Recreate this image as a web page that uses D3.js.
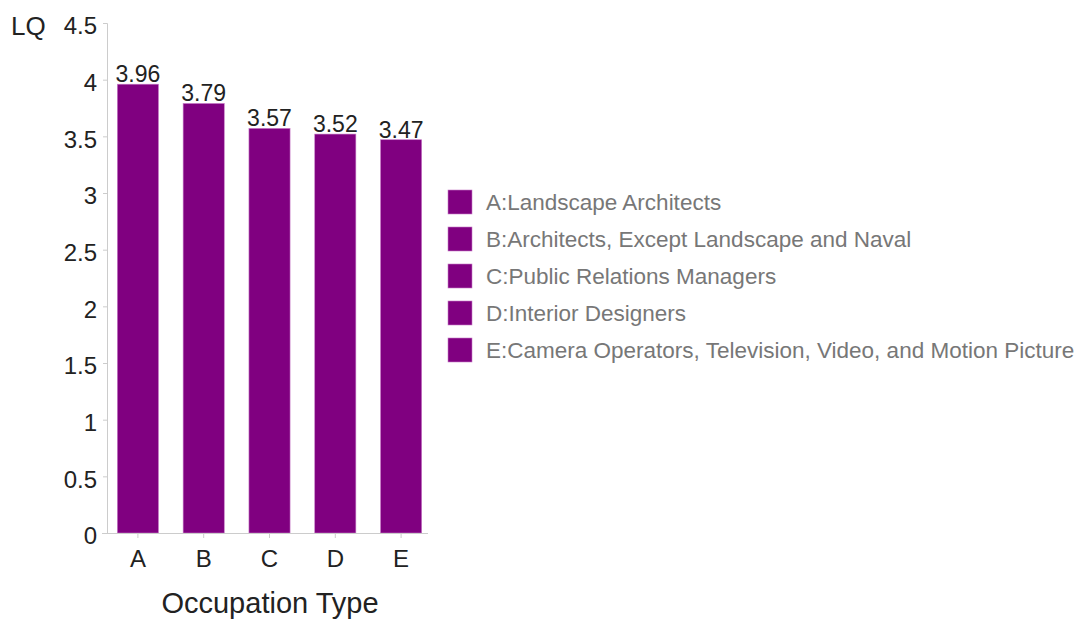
<!DOCTYPE html>
<html>
<head>
<meta charset="utf-8">
<script src="https://cdn.jsdelivr.net/npm/d3@7"></script>
<style>
  html, body { margin: 0; padding: 0; background: #fff; }
  svg { display: block; font-family: "Liberation Sans", Arial, Helvetica, sans-serif; }
</style>
</head>
<body>
<svg id="chart" width="1082" height="619"></svg>
<script>
// Location quotient by occupation type
const categories = ["A", "B", "C", "D", "E"];
const values = [3.96, 3.79, 3.57, 3.52, 3.47];
const occupationNames = [
  "Landscape Architects",
  "Architects, Except Landscape and Naval",
  "Public Relations Managers",
  "Interior Designers",
  "Camera Operators, Television, Video, and Motion Picture"
];
const yTicks = [0, 0.5, 1, 1.5, 2, 2.5, 3, 3.5, 4, 4.5];

const barColor = "#800080";
const axisColor = "#cccccc";
const fontFamily = "Liberation Sans, Arial, Helvetica, sans-serif";

const svg = d3.select("#chart");

const x = d3.scaleBand()
  .domain(categories)
  .range([105, 434])
  .paddingInner(0.375)
  .paddingOuter(0.1875);

const y = d3.scaleLinear()
  .domain([0, 4.5])
  .range([533, 23]);

// Bars
svg.append("g")
  .selectAll("rect")
  .data(values)
  .join("rect")
  .attr("x", (d, i) => x(categories[i]))
  .attr("y", d => y(d))
  .attr("width", x.bandwidth())
  .attr("height", d => y(0) - y(d))
  .attr("fill", barColor)
  .attr("stroke", "#c77bc7")
  .attr("stroke-width", 0.6);

// Value labels above the bars
svg.append("g")
  .selectAll("text")
  .data(values)
  .join("text")
  .attr("x", (d, i) => x(categories[i]) + x.bandwidth() / 2)
  .attr("y", d => y(d) - 2)
  .attr("text-anchor", "middle")
  .attr("font-size", 23)
  .attr("fill", "#222")
  .text(d => d3.format(".2f")(d));

// Y axis
const yAxis = svg.append("g")
  .attr("transform", "translate(107,0)")
  .call(d3.axisLeft(y).tickValues(yTicks).tickSize(4).tickPadding(6)
    .tickFormat(d3.format("~g")));
yAxis.select(".domain").attr("stroke", axisColor);
yAxis.selectAll(".tick line").attr("stroke", axisColor);
yAxis.selectAll(".tick text")
  .attr("font-size", 24)
  .attr("dy", "0.45em")
  .attr("fill", "#222")
  .attr("font-family", fontFamily);

// X axis
const xAxis = svg.append("g")
  .attr("transform", `translate(0,${y(0)})`)
  .call(d3.axisBottom(x).tickSize(5).tickPadding(12).tickSizeOuter(0));
xAxis.select(".domain").attr("stroke", axisColor).attr("d", "M102,0.5H428");
xAxis.selectAll(".tick line").attr("stroke", axisColor);
xAxis.selectAll(".tick text")
  .attr("font-size", 24)
  .attr("fill", "#222")
  .attr("font-family", fontFamily);

// Axis titles
svg.append("text")
  .attr("x", 11)
  .attr("y", 35)
  .attr("font-size", 26)
  .attr("fill", "#222")
  .text("LQ");

svg.append("text")
  .attr("x", 270)
  .attr("y", 613)
  .attr("text-anchor", "middle")
  .attr("font-size", 29)
  .attr("fill", "#222")
  .text("Occupation Type");

// Legend
const legend = svg.append("g")
  .selectAll("g")
  .data(categories)
  .join("g")
  .attr("transform", (d, i) => `translate(448,${190 + i * 37})`);

legend.append("rect")
  .attr("width", 24)
  .attr("height", 24)
  .attr("fill", barColor)
  .attr("stroke", "#c77bc7")
  .attr("stroke-width", 0.6);

legend.append("text")
  .attr("x", 38)
  .attr("y", 20)
  .attr("font-size", 22.5)
  .attr("fill", "#777")
  .text((d, i) => `${d}:${occupationNames[i]}`);
</script>
</body>
</html>
